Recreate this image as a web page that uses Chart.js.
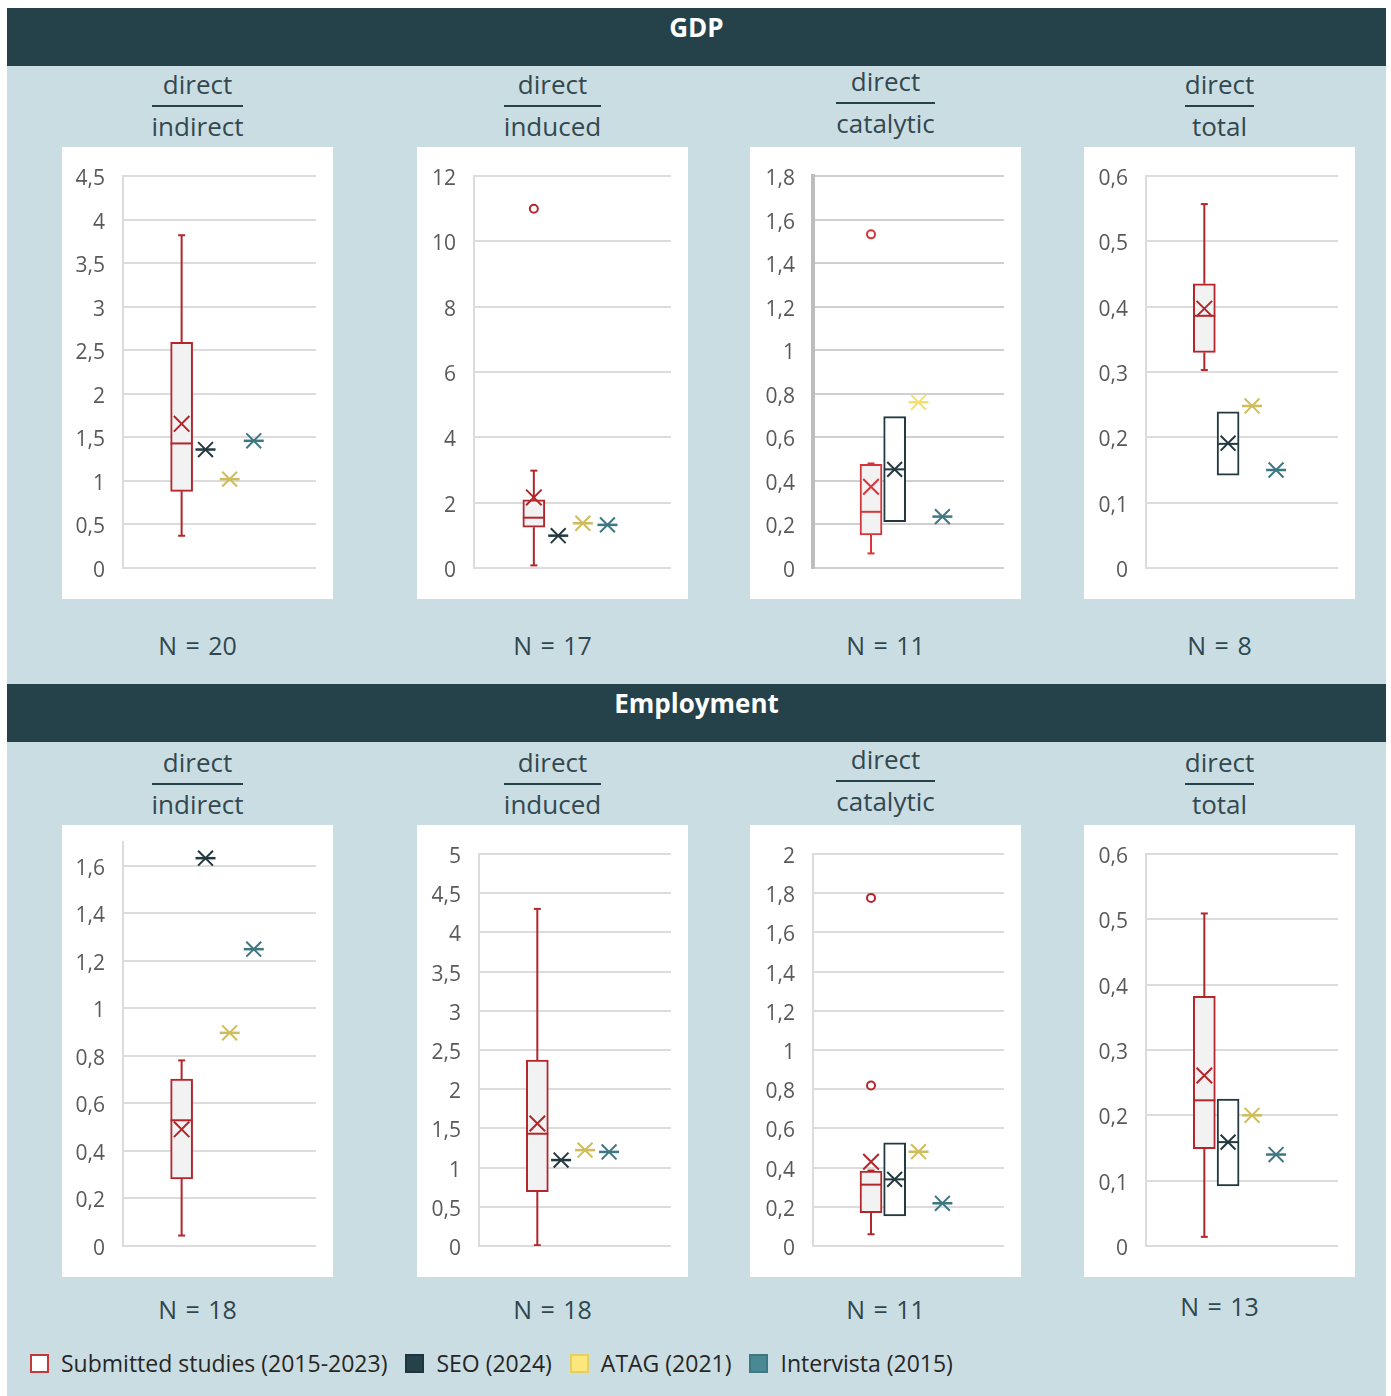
<!DOCTYPE html>
<html>
<head>
<meta charset="utf-8">
<script src="https://cdn.jsdelivr.net/npm/chart.js@4/dist/chart.umd.min.js"></script>
<style>
  body { margin: 0; background: #fff; font-family: "Open Sans", "Noto Sans", sans-serif; }
  #board { position: absolute; left: 7px; top: 8px; width: 1379px; height: 1388px; background: #cadde3; }
  .band { position: absolute; left: 7px; width: 1379px; height: 58px; background: #25424a; color: #fff;
          font-weight: 700; font-size: 26px; line-height: 38px; text-align: center; }
  .panel { position: absolute; width: 271px; height: 452px; background: #fff; }
  .frac { position: absolute; width: 271px; text-align: center; color: #33484f; font-size: 26px; }
  .frac .inner { display: inline-flex; flex-direction: column; align-items: stretch; }
  .frac .num, .frac .den { line-height: 30px; text-align: center; }
  .frac .rule { height: 2px; background: #25424a; margin: 6px 0 4px; }
  .n { position: absolute; width: 271px; text-align: center; font-size: 25px; color: #2f474e; line-height: 30px; word-spacing: 2px; }
  #legend { position: absolute; left: 30px; top: 1349px; display: flex; align-items: center; font-size: 23px; color: #262626; line-height: 28px; }
  #legend .item { display: flex; align-items: center; margin-right: 18px; }
  #legend .sw { width: 15px; height: 15px; margin-right: 12px; border: 2px solid; }
</style>
</head>
<body>
<div id="board"></div>
<div class="band" style="top:8px">GDP</div>
<div class="band" style="top:684px">Employment</div>
<div id="legend">
  <div class="item"><span class="sw" style="background:#fff;border-color:#c0393b"></span>Submitted studies (2015-2023)</div>
  <div class="item"><span class="sw" style="background:#25424a;border-color:#1f353b"></span>SEO (2024)</div>
  <div class="item"><span class="sw" style="background:#fbe77c;border-color:#e6cf62"></span>ATAG (2021)</div>
  <div class="item"><span class="sw" style="background:#4a8893;border-color:#3f7883"></span>Intervista (2015)</div>
</div>
<script>
// panel order: GDP indirect, induced, catalytic, total, then Employment the same
const metricTitles = ['GDP', 'Employment'];
const effectTypes = ['indirect', 'induced', 'catalytic', 'total'];
const sampleSizes = [20, 17, 11, 8, 18, 18, 11, 13];
const axisMax = [4.5, 12, 1.8, 0.6, 1.7, 5, 2, 0.6];
const axisStep = [0.5, 2, 0.2, 0.1, 0.2, 0.5, 0.2, 0.1];

// submitted studies (box and whisker)
const submittedMin = [0.37, 0.08, 0.067, 0.303, 0.044, 0.01, 0.06, 0.014];
const submittedQ1 = [0.88, 1.25, 0.152, 0.33, 0.282, 0.693, 0.17, 0.149];
const submittedMedian = [1.43, 1.54, 0.258, 0.386, 0.529, 1.432, 0.313, 0.223];
const submittedQ3 = [2.59, 2.09, 0.476, 0.435, 0.702, 2.37, 0.382, 0.382];
const submittedMax = [3.82, 2.98, 0.48, 0.557, 0.781, 4.3, 0.385, 0.509];
const submittedMean = [1.655, 2.16, 0.373, 0.397, 0.491, 1.563, 0.43, 0.261];
const submittedOutliers = [[], [11.0], [1.532], [], [], [], [1.776, 0.819], []];

// SEO: a box where a range exists, otherwise a single value
const seoQ1 = [null, null, 0.213, 0.142, null, null, 0.153, 0.092];
const seoMedian = [null, null, 0.453, 0.19, null, null, 0.34, 0.159];
const seoQ3 = [null, null, 0.695, 0.239, null, null, 0.527, 0.225];
const seoMean = [1.36, 0.99, 0.453, 0.191, 1.632, 1.096, 0.34, 0.159];

const atagValues = [1.02, 1.37, 0.761, 0.248, 0.897, 1.223, 0.481, 0.2];
const intervistaValues = [1.46, 1.32, 0.236, 0.15, 1.249, 1.2, 0.218, 0.14];

// layout
const panelLeft = [62, 417, 750, 1084];
const rowTop = [147, 825];
const fracTop = [66, 744];
const nTop = [630, 1294];
const yAxisWidth = [61, 57, 63, 62, 61, 62, 63, 62];
const slotX = [2.43, 3.42, 4.42, 5.42];

const dark = '#22393f';
const teal = '#3e7782';

function fmt(v) {
  return Number(v.toFixed(2)).toString().replace('.', ',');
}

function star(x, y, color, order) {
  return [
    { type: 'scatter', data: [{ x, y }], pointStyle: 'crossRot', pointRadius: 10.5,
      pointBorderColor: color, pointBorderWidth: 2, pointBackgroundColor: color, order },
    { type: 'scatter', data: [{ x, y }], pointStyle: 'line', pointRadius: 10,
      pointBorderColor: color, pointBorderWidth: 2.5, order }
  ];
}

function buildPanel(i) {
  const row = Math.floor(i / 4), col = i % 4;
  const bright = i === 2;
  const red = bright ? '#d7353b' : '#b3262c';
  const yellow = bright ? '#f5e06a' : '#cfbd5c';

  // header fraction
  const frac = document.createElement('div');
  frac.className = 'frac';
  frac.style.left = panelLeft[col] + 'px';
  frac.style.top = (fracTop[row] - (col === 2 ? 3 : 0)) + 'px';
  frac.innerHTML = '<div class="inner"><div class="num">direct</div><div class="rule"></div><div class="den">' +
    effectTypes[col] + '</div></div>';
  document.body.appendChild(frac);

  const n = document.createElement('div');
  n.className = 'n';
  n.style.left = panelLeft[col] + 'px';
  n.style.top = (nTop[row] - (i === 7 ? 3 : 0)) + 'px';
  n.textContent = 'N = ' + sampleSizes[i];
  document.body.appendChild(n);

  const box = document.createElement('div');
  box.className = 'panel';
  box.style.left = panelLeft[col] + 'px';
  box.style.top = rowTop[row] + 'px';
  const canvas = document.createElement('canvas');
  canvas.width = 271;
  canvas.height = 452;
  box.appendChild(canvas);
  document.body.appendChild(box);

  const x0 = slotX[0];
  const datasets = [];

  datasets.push({ type: 'scatter', data: [{ x: x0, y: submittedMean[i] }], pointStyle: 'crossRot',
    pointRadius: 11, pointBorderColor: red, pointBorderWidth: 2, order: 1 });
  datasets.push({ type: 'scatter', data: submittedOutliers[i].map(v => ({ x: x0, y: v })), pointStyle: 'circle',
    pointRadius: 4, pointBackgroundColor: '#fff', pointBorderColor: red, pointBorderWidth: 2, order: 1 });
  datasets.push({ type: 'scatter', data: [{ x: x0, y: submittedMedian[i] }], pointStyle: 'line',
    pointRadius: 11, pointBorderColor: red, pointBorderWidth: 2, order: 2 });
  datasets.push({ type: 'line', data: [
      { x: x0, y: submittedMin[i] }, { x: x0, y: submittedQ1[i] }, { x: x0, y: null },
      { x: x0, y: submittedQ3[i] }, { x: x0, y: submittedMax[i] }],
    borderColor: red, borderWidth: 2, pointRadius: 0, spanGaps: false, order: 3 });
  datasets.push({ type: 'scatter', data: [{ x: x0, y: submittedMin[i] }, { x: x0, y: submittedMax[i] }],
    pointStyle: 'line', pointRadius: 3.5, pointBorderColor: red, pointBorderWidth: 2, order: 3 });
  datasets.push({ type: 'bar', data: [{ x: x0, y: [submittedQ1[i], submittedQ3[i]] }],
    backgroundColor: '#f2f2f2', borderColor: red, borderWidth: 2, borderSkipped: false,
    barThickness: 22, maxBarThickness: 22, grouped: false, order: 4 });

  if (seoQ1[i] !== null) {
    datasets.push({ type: 'bar', data: [{ x: slotX[1], y: [seoQ1[i], seoQ3[i]] }],
      backgroundColor: '#fff', borderColor: dark, borderWidth: 2, borderSkipped: false,
      barThickness: 22, maxBarThickness: 22, grouped: false, order: 4 });
    datasets.push({ type: 'scatter', data: [{ x: slotX[1], y: seoMedian[i] }], pointStyle: 'line',
      pointRadius: 10, pointBorderColor: dark, pointBorderWidth: 2, order: 2 });
    datasets.push({ type: 'scatter', data: [{ x: slotX[1], y: seoMean[i] }], pointStyle: 'crossRot',
      pointRadius: 10.5, pointBorderColor: dark, pointBorderWidth: 2, order: 1 });
  } else {
    datasets.push(...star(slotX[1], seoMean[i], dark, 1));
  }
  datasets.push(...star(slotX[2], atagValues[i], yellow, 1));
  datasets.push(...star(slotX[3], intervistaValues[i], teal, 1));

  new Chart(canvas, {
    type: 'scatter',
    data: { datasets },
    options: {
      responsive: false,
      animation: false,
      devicePixelRatio: 1,
      events: [],
      layout: { padding: { top: i === 4 ? 17 : 29, right: 17, bottom: 31, left: 0 } },
      plugins: { legend: { display: false }, tooltip: { enabled: false } },
      scales: {
        x: { type: 'linear', min: 0, max: 8, display: false, offset: false },
        y: {
          min: 0,
          max: axisMax[i],
          afterFit: s => { s.width = yAxisWidth[i]; },
          // invisible tick marks keep the label gap without padding the chart area
          grid: { color: bright ? '#d0d0d0' : '#dcdcdc', lineWidth: 2, drawTicks: true,
                  tickLength: 18, tickColor: 'rgba(0,0,0,0)' },
          border: { color: bright ? '#bdbdbd' : '#dcdcdc', width: bright ? 4 : 2 },
          ticks: {
            stepSize: axisStep[i],
            includeBounds: false,
            padding: 0,
            labelOffset: 3,
            color: '#595959',
            font: { family: '"Open Sans", "Noto Sans", sans-serif', size: 21 },
            callback: v => fmt(v)
          }
        }
      }
    }
  });
}

for (let i = 0; i < 8; i++) buildPanel(i);
</script>
</body>
</html>
